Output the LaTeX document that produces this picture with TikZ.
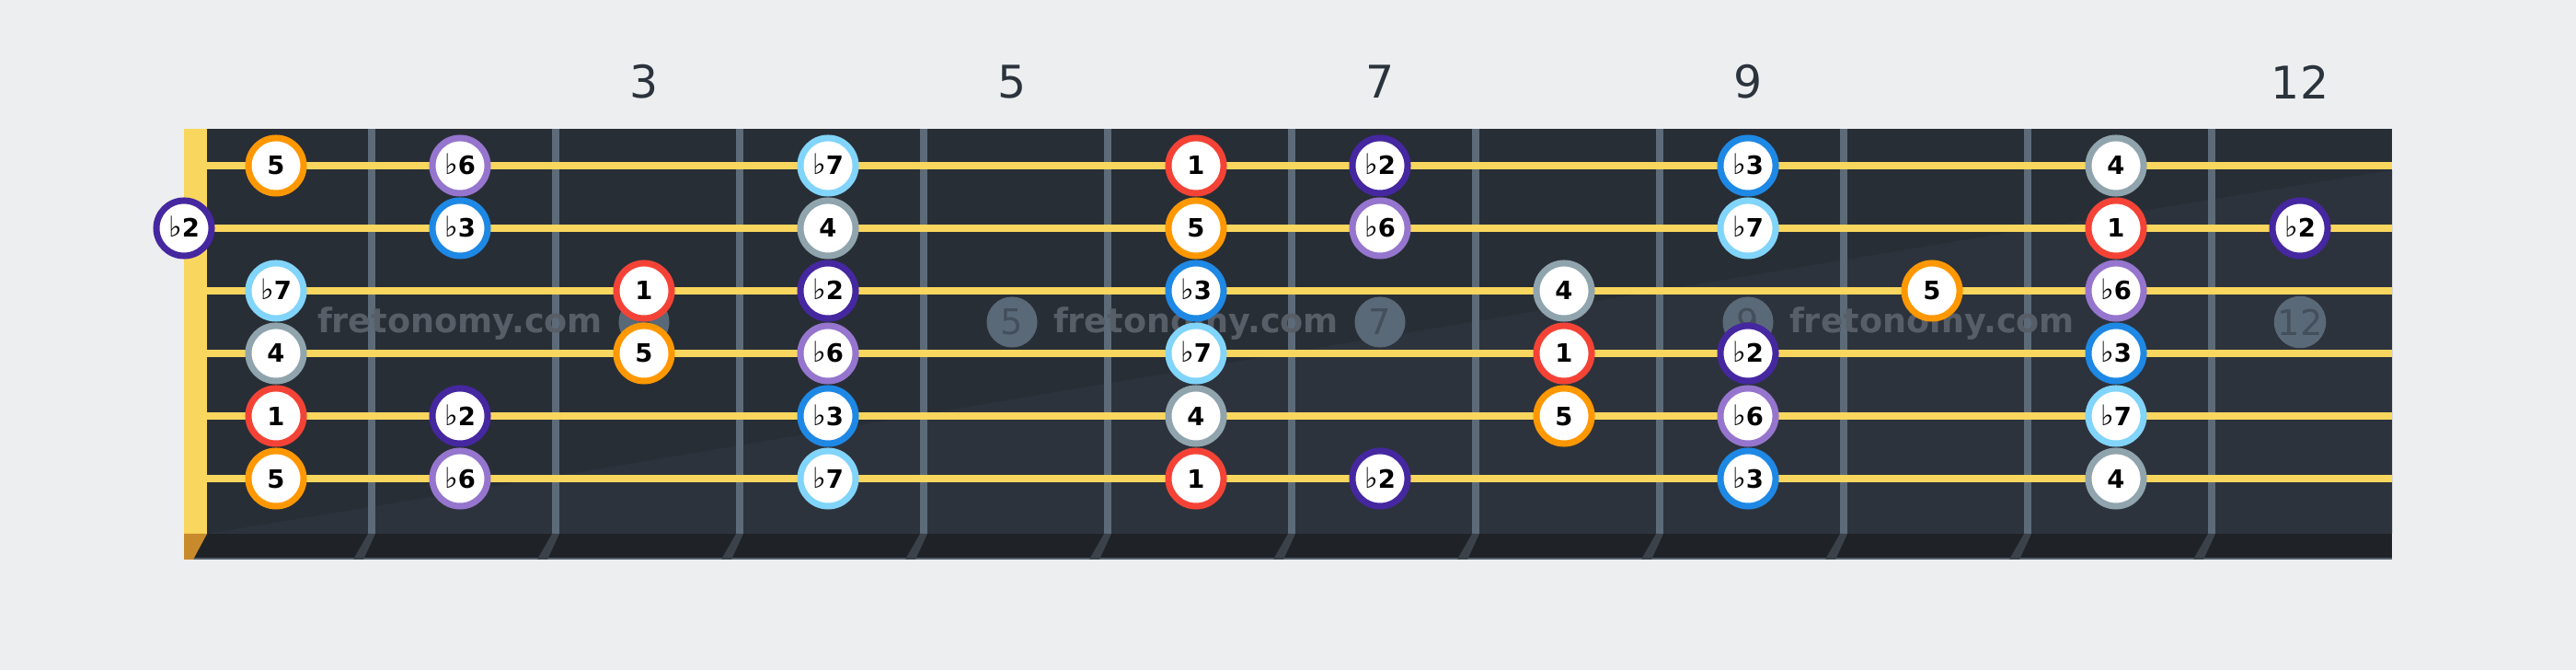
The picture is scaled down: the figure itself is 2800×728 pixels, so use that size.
\documentclass[tikz,border=0pt]{standalone}
\usepackage{fontspec}
\setmainfont{DejaVu Sans}
\usepackage{tikz}
\usetikzlibrary{calc}

\definecolor{bgcol}{HTML}{EDEEF0}
\definecolor{boardcol}{HTML}{282E36}
\definecolor{boardlite}{HTML}{2D333C}
\definecolor{stripcol}{HTML}{1F2328}
\definecolor{edgecol}{HTML}{55616C}
\definecolor{nutcol}{HTML}{F9D65E}
\definecolor{nutfoot}{HTML}{C98A2B}
\definecolor{fretcol}{HTML}{5D6B79}
\definecolor{fretshade}{HTML}{3B424A}
\definecolor{strcol}{HTML}{F9D65E}
\definecolor{inlaycol}{HTML}{5A6977}
\definecolor{inlaytxt}{HTML}{434F5B}
\definecolor{wmarkcol}{HTML}{585E67}
\definecolor{numcol}{HTML}{2B333C}
\definecolor{one}{HTML}{F44336}
\definecolor{ftwo}{HTML}{4527A0}
\definecolor{fthree}{HTML}{1E88E5}
\definecolor{four}{HTML}{90A4AE}
\definecolor{five}{HTML}{FF9800}
\definecolor{fsix}{HTML}{9575CD}
\definecolor{fseven}{HTML}{81D4FA}

\newcommand{\flatsym}{{\mdseries\fontsize{8.8}{9}\selectfont ♭}}

\begin{document}
\begin{tikzpicture}[x=0.01cm, y=-0.01cm,
	tone/.style={circle, draw=#1, fill=white, line width=0.07cm, minimum size=0.6cm, inner sep=0pt,
		text height=5.69pt, text depth=0pt, font=\fontsize{7.8}{8}\selectfont\bfseries},
	inlay/.style={circle, fill=inlaycol, text=inlaytxt, minimum size=0.55cm, inner sep=0pt,
		font=\fontsize{10.9}{12}\selectfont},
	wmark/.style={text=wmarkcol, anchor=base, inner sep=0pt, font=\fontsize{10.4}{12}\selectfont\bfseries},
	fretnum/.style={text=numcol, inner sep=0pt, font=\fontsize{13.9}{15}\selectfont},
	strg/.style={strcol, line width=0.08cm}]
	
	\fill[bgcol] (0,0) rectangle (2800,728);
	\useasboundingbox (0,0) rectangle (2800,728);
	
	% board
	\fill[boardcol] (225,140) rectangle (2600,580);
	\fill[boardlite] (225,580) .. controls (900,470) and (1700,330) .. (2600,185) -- (2600,580) -- cycle;
	\fill[stripcol] (200,580) rectangle (2600,608);
	\draw[edgecol, line width=0.015cm] (200,607) -- (2600,607);
	\fill[nutcol] (200,140) rectangle (225,580);
	\fill[nutfoot] (200,580) -- (225,580) -- (210,608) -- (200,608) -- cycle;
	\foreach \k in {2,...,12}{
		\fill[fretcol] (200*\k,140) rectangle (200*\k+8,580);
		\fill[fretshade] (200*\k,580) -- (200*\k+8,580) -- (200*\k-5,608) -- (200*\k-16,608) -- cycle;
	}
	
	% fret numbers
	\node[fretnum] (n3) at (700,89) {3};
	\node[fretnum] (n5) at (1100,89) {5};
	\node[fretnum] (n7) at (1500,89) {7};
	\node[fretnum] (n9) at (1900,89) {9};
	\node[fretnum] (n12) at (2500,89) {12};
	
	% inlays
	\node[inlay] (i3) at (700,350) {3};
	\node[inlay] (i5) at (1100,350) {5};
	\node[inlay] (i7) at (1500,350) {7};
	\node[inlay] (i9) at (1900,350) {9};
	\node[inlay] (i12) at (2500,350) {12};
	
	% strings
	\coordinate (s1a) at (225,180);
	\coordinate (s1b) at (2600,180);
	\coordinate (s2a) at (225,248);
	\coordinate (s2b) at (2600,248);
	\coordinate (s3a) at (225,316);
	\coordinate (s3b) at (2600,316);
	\coordinate (s4a) at (225,384);
	\coordinate (s4b) at (2600,384);
	\coordinate (s5a) at (225,452);
	\coordinate (s5b) at (2600,452);
	\coordinate (s6a) at (225,520);
	\coordinate (s6b) at (2600,520);
	\draw[strg] (s1a) -- (s1b);
	\draw[strg] (s2a) -- (s2b);
	\draw[strg] (s3a) -- (s3b);
	\draw[strg] (s4a) -- (s4b);
	\draw[strg] (s5a) -- (s5b);
	\draw[strg] (s6a) -- (s6b);
	
	% watermark
	\node[wmark] (w1) at (500,362) {fretonomy.com};
	\node[wmark] (w2) at (1300,362) {fretonomy.com};
	\node[wmark] (w3) at (2100,362) {fretonomy.com};
	
	% string 1
	\node[tone=five] (s1f1) at (300,180) {5};
	\node[tone=fsix] (s1f2) at (500,180) {\flatsym6};
	\node[tone=fseven] (s1f4) at (900,180) {\flatsym7};
	\node[tone=one] (s1f6) at (1300,180) {1};
	\node[tone=ftwo] (s1f7) at (1500,180) {\flatsym2};
	\node[tone=fthree] (s1f9) at (1900,180) {\flatsym3};
	\node[tone=four] (s1f11) at (2300,180) {4};
	% string 2
	\node[tone=ftwo] (s2f0) at (200,248) {\flatsym2};
	\node[tone=fthree] (s2f2) at (500,248) {\flatsym3};
	\node[tone=four] (s2f4) at (900,248) {4};
	\node[tone=five] (s2f6) at (1300,248) {5};
	\node[tone=fsix] (s2f7) at (1500,248) {\flatsym6};
	\node[tone=fseven] (s2f9) at (1900,248) {\flatsym7};
	\node[tone=one] (s2f11) at (2300,248) {1};
	\node[tone=ftwo] (s2f12) at (2500,248) {\flatsym2};
	% string 3
	\node[tone=fseven] (s3f1) at (300,316) {\flatsym7};
	\node[tone=one] (s3f3) at (700,316) {1};
	\node[tone=ftwo] (s3f4) at (900,316) {\flatsym2};
	\node[tone=fthree] (s3f6) at (1300,316) {\flatsym3};
	\node[tone=four] (s3f8) at (1700,316) {4};
	\node[tone=five] (s3f10) at (2100,316) {5};
	\node[tone=fsix] (s3f11) at (2300,316) {\flatsym6};
	% string 4
	\node[tone=four] (s4f1) at (300,384) {4};
	\node[tone=five] (s4f3) at (700,384) {5};
	\node[tone=fsix] (s4f4) at (900,384) {\flatsym6};
	\node[tone=fseven] (s4f6) at (1300,384) {\flatsym7};
	\node[tone=one] (s4f8) at (1700,384) {1};
	\node[tone=ftwo] (s4f9) at (1900,384) {\flatsym2};
	\node[tone=fthree] (s4f11) at (2300,384) {\flatsym3};
	% string 5
	\node[tone=one] (s5f1) at (300,452) {1};
	\node[tone=ftwo] (s5f2) at (500,452) {\flatsym2};
	\node[tone=fthree] (s5f4) at (900,452) {\flatsym3};
	\node[tone=four] (s5f6) at (1300,452) {4};
	\node[tone=five] (s5f8) at (1700,452) {5};
	\node[tone=fsix] (s5f9) at (1900,452) {\flatsym6};
	\node[tone=fseven] (s5f11) at (2300,452) {\flatsym7};
	% string 6
	\node[tone=five] (s6f1) at (300,520) {5};
	\node[tone=fsix] (s6f2) at (500,520) {\flatsym6};
	\node[tone=fseven] (s6f4) at (900,520) {\flatsym7};
	\node[tone=one] (s6f6) at (1300,520) {1};
	\node[tone=ftwo] (s6f7) at (1500,520) {\flatsym2};
	\node[tone=fthree] (s6f9) at (1900,520) {\flatsym3};
	\node[tone=four] (s6f11) at (2300,520) {4};
	
\end{tikzpicture}
\end{document}
